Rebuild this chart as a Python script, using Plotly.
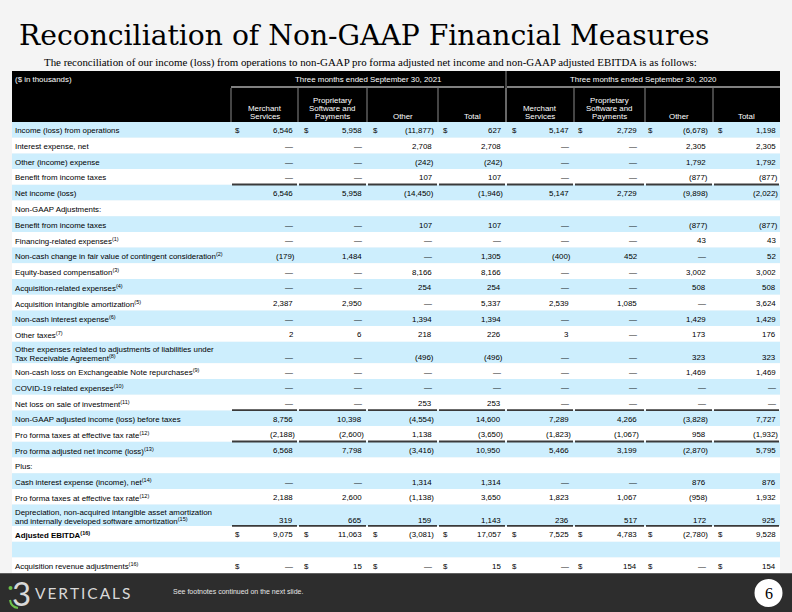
import plotly.graph_objects as go

# ---------------- data ----------------
TITLE = "Reconciliation of Non-GAAP Financial Measures"
SUBTITLE = ("The reconciliation of our income (loss) from operations to non-GAAP pro forma "
            "adjusted net income and non-GAAP adjusted EBITDA is as follows:")
UNIT_LABEL = "($ in thousands)"
PERIODS = ["Three months ended September 30, 2021", "Three months ended September 30, 2020"]
SEGMENTS = ["Merchant\nServices", "Proprietary\nSoftware and\nPayments", "Other", "Total"]
FOOTNOTE = "See footnotes continued on the next slide."
PAGE_NUMBER = "6"

row_labels = [
    "Income (loss) from operations",
    "Interest expense, net",
    "Other (income) expense",
    "Benefit from income taxes",
    "Net income (loss)",
    "Non-GAAP Adjustments:",
    "Benefit from income taxes",
    "Financing-related expenses<sup>(1)</sup>",
    "Non-cash change in fair value of contingent consideration<sup>(2)</sup>",
    "Equity-based compensation<sup>(3)</sup>",
    "Acquisition-related expenses<sup>(4)</sup>",
    "Acquisition intangible amortization<sup>(5)</sup>",
    "Non-cash interest expense<sup>(6)</sup>",
    "Other taxes<sup>(7)</sup>",
    "Other expenses related to adjustments of liabilities under\nTax Receivable Agreement<sup>(8)</sup>",
    "Non-cash loss on Exchangeable Note repurchases<sup>(9)</sup>",
    "COVID-19 related expenses<sup>(10)</sup>",
    "Net loss on sale of investment<sup>(11)</sup>",
    "Non-GAAP adjusted income (loss) before taxes",
    "Pro forma taxes at effective tax rate<sup>(12)</sup>",
    "Pro forma adjusted net income (loss)<sup>(13)</sup>",
    "Plus:",
    "Cash interest expense (income), net<sup>(14)</sup>",
    "Pro forma taxes at effective tax rate<sup>(12)</sup>",
    "Depreciation, non-acquired intangible asset amortization\nand internally developed software amortization<sup>(15)</sup>",
    "<b>Adjusted EBITDA<sup>(16)</sup></b>",
    "",
    "Acquisition revenue adjustments<sup>(16)</sup>",
]
# None = em dash; rows listed in blank_rows show no values
merchant_2021 = [6546, None, None, None, 6546, None, None, None, -179, None, None, 2387, None, 2,
                 None, None, None, None, 8756, -2188, 6568, None, None, 2188, 319, 9075, None, None]
proprietary_2021 = [5958, None, None, None, 5958, None, None, None, 1484, None, None, 2950, None, 6,
                    None, None, None, None, 10398, -2600, 7798, None, None, 2600, 665, 11063, None, 15]
other_2021 = [-11877, 2708, -242, 107, -14450, None, 107, None, None, 8166, 254, None, 1394, 218,
              -496, None, None, 253, -4554, 1138, -3416, None, 1314, -1138, 159, -3081, None, None]
total_2021 = [627, 2708, -242, 107, -1946, None, 107, None, 1305, 8166, 254, 5337, 1394, 226,
              -496, None, None, 253, 14600, -3650, 10950, None, 1314, 3650, 1143, 17057, None, 15]
merchant_2020 = [5147, None, None, None, 5147, None, None, None, -400, None, None, 2539, None, 3,
                 None, None, None, None, 7289, -1823, 5466, None, None, 1823, 236, 7525, None, None]
proprietary_2020 = [2729, None, None, None, 2729, None, None, None, 452, None, None, 1085, None, None,
                    None, None, None, None, 4266, -1067, 3199, None, None, 1067, 517, 4783, None, 154]
other_2020 = [-6678, 2305, 1792, -877, -9898, None, -877, 43, None, 3002, 508, None, 1429, 173,
              323, 1469, None, None, -3828, 958, -2870, None, 876, -958, 172, -2780, None, None]
total_2020 = [1198, 2305, 1792, -877, -2022, None, -877, 43, 52, 3002, 508, 3624, 1429, 176,
              323, 1469, None, None, 7727, -1932, 5795, None, 876, 1932, 925, 9528, None, 154]

columns = [merchant_2021, proprietary_2021, other_2021, total_2021,
           merchant_2020, proprietary_2020, other_2020, total_2020]
blank_rows = [5, 21, 26]
dollar_rows = [0, 25, 27]
subtotal_rows = [4, 18, 20, 25]   # rows with a rule above them

# ---------------- style / geometry ----------------
W, H = 792, 612
BG = "#f4f4f4"
BLUE = "#cdeefd"
SANS = "Liberation Sans, Arial, sans-serif"
SERIF_T = "DejaVu Serif, serif"
SERIF = "Liberation Serif, Times New Roman, serif"
FS = 7.9

TABLE_L, TABLE_R = 12, 780
HDR1_TOP, HDR2_TOP, BODY_TOP = 71, 87, 122
ROW_H, TALL_H = 15.7, 21.5
col_edges = [231, 298, 367, 438, 506, 574, 645, 713, 780]
num_right = [293, 362, 432, 501, 569, 637, 706, 776]
dollar_x = [235, 304, 373, 443, 512, 578, 648, 718]
LABEL_X = 15

shapes, annos = [], []


def rect(x0, y0, x1, y1, color):
    shapes.append(dict(type="rect", xref="x", yref="y", x0=x0, y0=y0, x1=x1, y1=y1,
                       fillcolor=color, line=dict(width=0), layer="below"))


def line(x0, y0, x1, y1, color, width=1):
    shapes.append(dict(type="line", xref="x", yref="y", x0=x0, y0=y0, x1=x1, y1=y1,
                       line=dict(color=color, width=width)))


def text(x, y, s, size=FS, color="black", xanchor="left", family=SANS, yanchor="middle"):
    annos.append(dict(x=x, y=y, xref="x", yref="y", text=s, showarrow=False,
                      xanchor=xanchor, yanchor=yanchor, borderpad=0, borderwidth=0,
                      font=dict(family=family, size=size, color=color)))


# title & subtitle
text(19, 35, TITLE, size=28.2, family=SERIF_T)
text(370, 62, SUBTITLE, size=10.9, family=SERIF, xanchor="center")

# header block
rect(TABLE_L, HDR1_TOP, TABLE_R, BODY_TOP, "black")
text(LABEL_X, 79, UNIT_LABEL, color="white")
for g in range(2):
    left, right = col_edges[4 * g], col_edges[4 * g + 4]
    text((left + right) / 2, 79, PERIODS[g], color="white", xanchor="center")
    line(left + (1 if g else 0), HDR2_TOP, right - (2 if g == 0 else 0), HDR2_TOP, "white", 1.2)
line(col_edges[4], HDR1_TOP, col_edges[4], BODY_TOP, "#8a8a8a", 1)
for e in col_edges[:-1]:
    line(e, HDR2_TOP + 1, e, BODY_TOP, "#8a8a8a", 1)
for c in range(8):
    cx = (col_edges[c] + col_edges[c + 1]) / 2
    lines = SEGMENTS[c % 4].split("\n")
    n = len(lines)
    for i, ln in enumerate(lines):
        text(cx, 116 - 8 * (n - 1 - i), ln, color="white", xanchor="center")

# body rows
heights = [TALL_H if "\n" in lab else ROW_H for lab in row_labels]
tops = []
y = BODY_TOP
for h in heights:
    tops.append(y)
    y += h


def fmt(v):
    if v is None:
        return "\u2014"
    if v < 0:
        return "({:,})".format(-v)
    return "{:,}".format(v)


for r, lab in enumerate(row_labels):
    top, h = tops[r], heights[r]
    rect(TABLE_L, top, TABLE_R, top + h, BLUE if r % 2 == 0 else "white")
    cy = top + h / 2 + 1
    parts = lab.split("\n")
    if len(parts) == 1:
        if parts[0]:
            text(LABEL_X, cy, parts[0])
        vy = cy
    else:
        text(LABEL_X, cy - 4.3, parts[0])
        text(LABEL_X, cy + 4.3, parts[1])
        vy = cy + 4.3
    if r in blank_rows:
        continue
    for c, col in enumerate(columns):
        v = col[r]
        xr = num_right[c] + (2 if (v is not None and v < 0) else 0)
        text(xr, vy, fmt(v), xanchor="right")
        if r in dollar_rows:
            text(dollar_x[c], vy, "$")

for r in subtotal_rows:
    yy = tops[r] - 0.3
    for c in range(8):
        line(col_edges[c] + 1, yy, col_edges[c + 1] - 1, yy, "#3a3a3a", 1.8)

# footer band
FOOT_TOP = tops[-1] + heights[-1]
rect(0, FOOT_TOP, W, H, "#2d2d2d")
shapes.append(dict(type="circle", xref="x", yref="y", x0=8.5, y0=586, x1=12.5, y1=590,
                   fillcolor="#6cc04a", line=dict(width=0)))
shapes.append(dict(type="path", xref="x", yref="y",
                   path="M 10 600 Q 11 607 18 608", line=dict(color="#6cc04a", width=2)))
text(12, 593, "3", size=33, color="#d8d8d8", family="Lato, sans-serif")
text(35, 593, "V\u2009E\u2009R\u2009T\u2009I\u2009C\u2009A\u2009L\u2009S", size=15.5, color="#d8d8d8",
     family="Lato, sans-serif")
text(173, 591, FOOTNOTE, size=7, color="#e6e6e6")
shapes.append(dict(type="circle", xref="x", yref="y", x0=754.5, y0=579, x1=782.5, y1=607,
                   fillcolor="white", line=dict(width=0)))
text(768.5, 593.5, PAGE_NUMBER, size=16, family=SERIF, xanchor="center")

fig = go.Figure()
fig.add_trace(go.Scatter(x=[0, W], y=[0, H], mode="markers", marker=dict(opacity=0),
                         hoverinfo="skip", showlegend=False))
fig.update_layout(
    width=W, height=H, autosize=False,
    margin=dict(l=0, r=0, t=0, b=0, pad=0),
    paper_bgcolor=BG, plot_bgcolor=BG,
    xaxis=dict(range=[0, W], visible=False, fixedrange=True),
    yaxis=dict(range=[H, 0], visible=False, fixedrange=True),
    shapes=shapes, annotations=annos, showlegend=False,
)
fig.write_html("out.html", config={"displayModeBar": False, "staticPlot": True},
               post_script="document.body.style.margin='0';document.body.style.overflow='hidden';")
